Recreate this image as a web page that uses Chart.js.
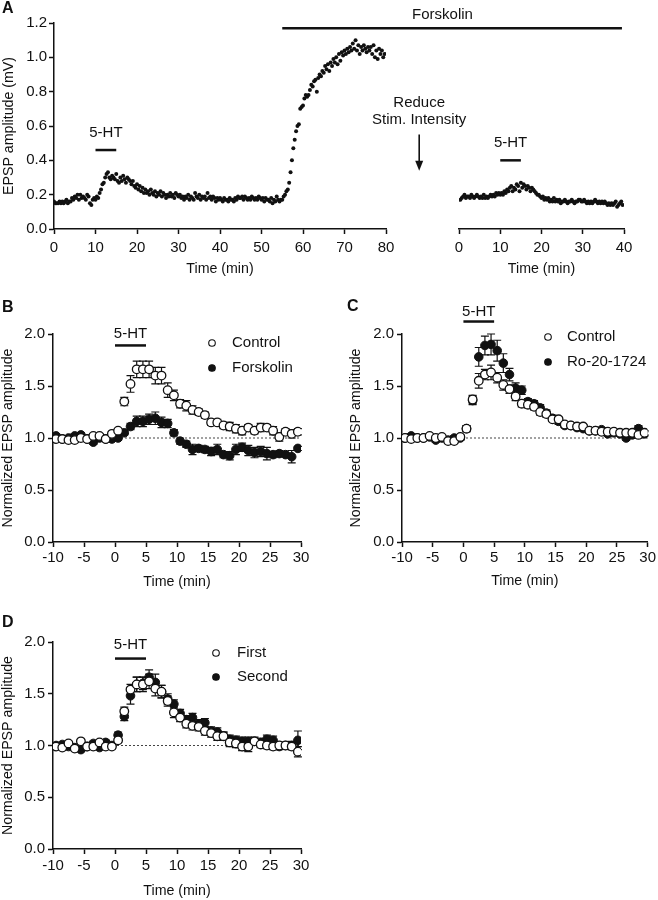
<!DOCTYPE html>
<html>
<head>
<meta charset="utf-8">
<script src="https://cdn.jsdelivr.net/npm/chart.js@4.4.1/dist/chart.umd.min.js"></script>
<style>
  body { margin: 0; background: #fff; }
  #fig { position: relative; width: 658px; height: 900px; }
  #fig canvas { position: absolute; }
  .letter { position: absolute; font: bold 16px "Liberation Sans", Arial, sans-serif; color: #111; line-height: 14px; }
</style>
</head>
<body>
<div id="fig">
  <canvas id="chartA1" width="658" height="280" style="left:0;top:0"></canvas>
  <canvas id="chartA2" width="658" height="280" style="left:0;top:0"></canvas>
  <canvas id="chartB" width="330" height="310" style="left:0;top:280px"></canvas>
  <canvas id="chartC" width="328" height="310" style="left:330px;top:280px"></canvas>
  <canvas id="chartD" width="330" height="310" style="left:0;top:590px"></canvas>
  <div class="letter" style="left:2px;top:1px">A</div>
  <div class="letter" style="left:2px;top:300px">B</div>
  <div class="letter" style="left:347px;top:299px">C</div>
  <div class="letter" style="left:2px;top:615px">D</div>
</div>
<script>
const INK = '#111';
const TICK_SIZE = 15;
const TITLE_SIZE = 14.2;
Chart.defaults.font.family = '"Liberation Sans", Arial, sans-serif';
Chart.defaults.color = INK;

// ---- Panel A: raw EPSP amplitude (mV), one sweep every 20 s ----
const sampleMin = 1 / 3;
const aBeforeAmp = [
  0.16,0.15,0.15, 0.15,0.16,0.15, 0.16,0.15,0.16, 0.17,0.15,0.16, 0.16,0.18,0.17,
  0.19,0.18,0.20, 0.17,0.20,0.18, 0.19,0.18,0.17, 0.20,0.19,0.15, 0.14,0.17,0.18,
  0.17,0.19,0.18, 0.21,0.23,0.26, 0.27,0.30,0.32, 0.33,0.30,0.29, 0.31,0.30,0.29,
  0.32,0.28,0.27, 0.30,0.28,0.31, 0.29,0.27,0.30, 0.29,0.28,0.26, 0.28,0.25,0.24,
  0.26,0.23,0.25, 0.22,0.24,0.21, 0.23,0.21,0.22, 0.20,0.23,0.21, 0.20,0.22,0.19,
  0.21,0.20,0.22, 0.19,0.21,0.20, 0.18,0.20,0.19, 0.21,0.19,0.20, 0.18,0.21,0.20,
  0.19,0.20,0.18, 0.19,0.17,0.19, 0.18,0.20,0.17, 0.19,0.18,0.17, 0.21,0.19,0.18,
  0.20,0.17,0.19, 0.18,0.19,0.17, 0.21,0.18,0.19, 0.17,0.19,0.18, 0.16,0.18,0.17,
  0.18,0.17,0.16, 0.18,0.17,0.17, 0.16,0.18,0.17, 0.17,0.16,0.18, 0.17,0.19,0.18,
  0.18,0.19,0.17, 0.19,0.18,0.17, 0.18,0.17,0.19, 0.18,0.17,0.18, 0.17,0.19,0.18,
  0.17,0.18,0.16, 0.18,0.17,0.17, 0.16,0.18,0.15, 0.17,0.16,0.19, 0.17,0.16,0.17,
  0.17,0.19,0.20, 0.22,0.23,0.27, 0.33,0.40,0.47, 0.52,0.57,0.60, 0.61,0.70,0.71,
  0.72,0.76,0.78, 0.77,0.78,0.81, 0.84,0.83,0.86, 0.87,0.80,0.88, 0.90,0.89,0.92,
  0.91,0.95,0.93, 0.96,0.92,0.97, 0.95,0.99,0.97, 1.00,0.96,1.02, 0.98,1.03,1.01,
  1.04,1.02,1.05, 1.03,1.06,1.04, 1.08,1.05,1.10, 1.04,1.07,1.02, 1.06,1.04,1.07,
  1.05,1.03,1.06, 1.04,1.06,1.02, 1.07,1.00,1.04, 0.99,1.05,1.02, 1.04,1.00,1.02
];
const aAfterAmp = [
  0.17,0.18,0.19, 0.20,0.18,0.19, 0.19,0.18,0.20, 0.19,0.18,0.19, 0.20,0.19,0.18,
  0.19,0.18,0.20, 0.18,0.19,0.18, 0.19,0.20,0.19, 0.20,0.19,0.21, 0.20,0.21,0.20,
  0.21,0.20,0.22, 0.21,0.23,0.22, 0.24,0.25,0.22, 0.24,0.23,0.26, 0.25,0.22,0.27,
  0.24,0.26,0.25, 0.23,0.25,0.24, 0.22,0.24,0.23, 0.22,0.21,0.20, 0.20,0.19,0.18,
  0.19,0.17,0.18, 0.17,0.18,0.16, 0.17,0.16,0.18, 0.16,0.17,0.16, 0.17,0.15,0.16,
  0.16,0.17,0.16, 0.15,0.16,0.16, 0.17,0.16,0.15, 0.16,0.16,0.17, 0.17,0.16,0.16,
  0.17,0.16,0.15, 0.16,0.15,0.16, 0.15,0.16,0.17, 0.16,0.15,0.16, 0.15,0.16,0.15,
  0.16,0.15,0.14, 0.15,0.14,0.15, 0.14,0.15,0.16, 0.13,0.14,0.15, 0.16,0.14
];
const aBeforeTicks = [0, 10, 20, 30, 40, 50, 60, 70, 80];
const aAfterTicks = [0, 10, 20, 30, 40];
const aAmpTicks = [0, 0.2, 0.4, 0.6, 0.8, 1.0, 1.2];

// ---- Panels B-D: normalized EPSP amplitude, 1-min bins ----
const normTime = [-9.5,-8.5,-7.5,-6.5,-5.5,-4.5,-3.5,-2.5,-1.5,-0.5,
  0.5,1.5,2.5,3.5,4.5,5.5,6.5,7.5,8.5,9.5,
  10.5,11.5,12.5,13.5,14.5,15.5,16.5,17.5,18.5,19.5,
  20.5,21.5,22.5,23.5,24.5,25.5,26.5,27.5,28.5,29.5];
const normTimeTicks = [-10, -5, 0, 5, 10, 15, 20, 25, 30];
const normAmpTicks = [0, 0.5, 1.0, 1.5, 2.0];

const bControl = [0.99,0.99,0.98,0.98,1.00,0.99,1.02,1.02,0.99,1.04,
  1.07,1.35,1.52,1.66,1.66,1.66,1.60,1.60,1.46,1.41,
  1.33,1.31,1.27,1.25,1.22,1.15,1.15,1.12,1.11,1.09,
  1.07,1.10,1.07,1.10,1.10,1.07,1.01,1.06,1.04,1.06];
const bControlSem = [0.02,0.02,0.02,0.02,0.02,0.02,0.02,0.02,0.02,0.02,
  0.02,0.04,0.08,0.08,0.08,0.08,0.08,0.08,0.07,0.05,
  0.04,0.05,0.04,0.03,0.03,0.03,0.03,0.03,0.04,0.04,
  0.04,0.03,0.03,0.04,0.03,0.04,0.04,0.03,0.04,0.03];
const bForskolin = [1.02,0.99,1.00,1.02,1.03,0.99,0.96,1.00,0.99,0.99,
  1.00,1.05,1.11,1.16,1.16,1.18,1.19,1.15,1.14,1.05,
  0.97,0.94,0.89,0.90,0.89,0.87,0.89,0.84,0.83,0.89,
  0.91,0.88,0.86,0.87,0.85,0.84,0.85,0.84,0.82,0.90];
const bForskolinSem = [0.02,0.02,0.02,0.02,0.02,0.02,0.02,0.02,0.02,0.02,
  0.02,0.02,0.03,0.05,0.05,0.05,0.06,0.05,0.04,0.03,
  0.03,0.03,0.05,0.03,0.03,0.04,0.05,0.03,0.04,0.05,
  0.04,0.05,0.05,0.05,0.06,0.03,0.03,0.02,0.06,0.02];

const cControl = [1.00,0.99,1.00,1.00,1.02,1.00,1.01,0.97,0.97,1.01,
  1.09,1.37,1.55,1.61,1.63,1.58,1.51,1.47,1.40,1.33,
  1.32,1.30,1.25,1.23,1.18,1.18,1.13,1.12,1.11,1.11,
  1.07,1.07,1.06,1.06,1.06,1.05,1.05,1.05,1.03,1.05];
const cControlSem = [0.02,0.02,0.01,0.01,0.01,0.02,0.01,0.02,0.02,0.02,
  0.03,0.04,0.07,0.05,0.07,0.05,0.05,0.04,0.04,0.03,
  0.03,0.03,0.03,0.03,0.02,0.02,0.02,0.02,0.02,0.02,
  0.02,0.02,0.02,0.02,0.02,0.02,0.02,0.02,0.03,0.02];
const cRo = [1.00,1.02,1.00,1.00,1.01,0.98,1.00,0.98,1.00,1.00,
  1.09,1.36,1.78,1.89,1.90,1.84,1.72,1.61,1.48,1.46,
  1.35,1.33,1.29,1.24,1.19,1.16,1.12,1.12,1.10,1.09,
  1.07,1.07,1.08,1.04,1.05,1.04,1.00,1.03,1.09,1.04];
const cRoSem = [0.02,0.02,0.01,0.01,0.01,0.02,0.01,0.02,0.02,0.02,
  0.03,0.04,0.09,0.09,0.10,0.10,0.09,0.06,0.05,0.04,
  0.03,0.03,0.03,0.03,0.03,0.03,0.02,0.02,0.02,0.02,
  0.02,0.02,0.02,0.02,0.02,0.02,0.02,0.02,0.03,0.02];

const dFirst = [0.99,0.98,1.02,0.97,1.04,0.99,0.99,1.03,0.99,0.99,
  1.05,1.33,1.54,1.59,1.59,1.62,1.55,1.52,1.43,1.32,
  1.27,1.21,1.19,1.18,1.14,1.12,1.09,1.09,1.03,1.02,
  0.99,0.99,1.04,1.01,1.00,0.99,1.00,1.00,0.99,0.94];
const dFirstSem = [0.02,0.02,0.02,0.02,0.02,0.02,0.02,0.02,0.02,0.02,
  0.02,0.04,0.05,0.07,0.07,0.07,0.07,0.06,0.05,0.05,
  0.04,0.04,0.04,0.04,0.04,0.04,0.04,0.04,0.04,0.04,
  0.04,0.05,0.03,0.03,0.03,0.03,0.03,0.03,0.03,0.05];
const dSecond = [1.00,1.01,0.99,0.98,0.96,0.99,1.02,0.98,1.03,1.00,
  1.10,1.28,1.48,1.59,1.60,1.66,1.61,1.52,1.45,1.40,
  1.31,1.25,1.27,1.21,1.22,1.14,1.13,1.09,1.06,1.05,
  1.04,1.04,1.04,1.03,1.06,1.05,0.99,1.00,1.00,1.05];
const dSecondSem = [0.02,0.02,0.02,0.02,0.02,0.02,0.02,0.02,0.02,0.02,
  0.03,0.04,0.08,0.07,0.06,0.07,0.08,0.06,0.05,0.04,
  0.04,0.04,0.04,0.04,0.04,0.04,0.04,0.04,0.04,0.04,
  0.04,0.04,0.04,0.04,0.04,0.04,0.03,0.03,0.04,0.09];

function toPoints(xs, ys) {
  return ys.map((y, i) => ({ x: xs[i], y: y }));
}

// mean +/- SEM whiskers, drawn under each dataset's own markers
Chart.register({
  id: 'semBars',
  beforeDatasetDraw(chart, args) {
    const ds = chart.data.datasets[args.index];
    if (!ds.sem) return;
    const { ctx, scales: { x, y } } = chart;
    ctx.save();
    ctx.strokeStyle = INK;
    ctx.lineWidth = 1.2;
    ds.data.forEach((p, i) => {
      const px = x.getPixelForValue(p.x);
      const top = y.getPixelForValue(p.y + ds.sem[i]);
      const bot = y.getPixelForValue(p.y - ds.sem[i]);
      ctx.beginPath();
      ctx.moveTo(px, top); ctx.lineTo(px, bot);
      ctx.moveTo(px - 4, top); ctx.lineTo(px + 4, top);
      ctx.moveTo(px - 4, bot); ctx.lineTo(px + 4, bot);
      ctx.stroke();
    });
    ctx.restore();
  }
});

function xAxis(ticks, min, max, o) {
  return {
    type: 'linear', position: 'bottom', min: min, max: max,
    afterBuildTicks: s => { s.ticks = ticks.map(v => ({ value: v })); },
    afterFit: s => { s.height = o.height; },
    ticks: { padding: o.tickPad, font: { size: TICK_SIZE }, color: INK, maxRotation: 0, autoSkip: false, callback: v => String(v) },
    grid: { drawOnChartArea: false, tickLength: 5, tickWidth: 1.5, tickColor: INK },
    border: { color: INK, width: 1.5 },
    title: { display: true, text: 'Time (min)', font: { size: TITLE_SIZE }, color: INK, padding: { top: 0, bottom: o.titlePad } }
  };
}

function yAxis(ticks, max, title, o) {
  return {
    type: 'linear', min: 0, max: max, display: o.display !== false,
    afterBuildTicks: s => { s.ticks = ticks.map(v => ({ value: v })); },
    afterFit: s => { s.width = o.width; },
    ticks: { padding: o.tickPad, font: { size: TICK_SIZE }, color: INK, autoSkip: false, callback: v => v.toFixed(1) },
    grid: { drawOnChartArea: false, tickLength: 5, tickWidth: 1.5, tickColor: INK },
    border: { color: INK, width: 1.5 },
    title: { display: true, text: title, font: { size: TITLE_SIZE }, color: INK, padding: { top: o.titlePad, bottom: 0 } }
  };
}

function drawBar(ctx, x1, x2, y) {
  ctx.save();
  ctx.strokeStyle = INK;
  ctx.lineWidth = 2.5;
  ctx.beginPath();
  ctx.moveTo(x1, y); ctx.lineTo(x2, y);
  ctx.stroke();
  ctx.restore();
}

function drawLabel(ctx, text, x, y) {
  ctx.save();
  ctx.fillStyle = INK;
  ctx.font = TICK_SIZE + 'px "Liberation Sans", Arial, sans-serif';
  ctx.textAlign = 'center';
  ctx.textBaseline = 'middle';
  ctx.fillText(text, x, y);
  ctx.restore();
}

const baseOptions = {
  responsive: false,
  animation: false,
  events: [],
  plugins: { legend: { display: false }, tooltip: { enabled: false } }
};

// Panel A, before the intensity change
const chartA1 = new Chart(document.getElementById('chartA1'), {
  type: 'scatter',
  data: { datasets: [{
    data: toPoints(aBeforeAmp.map((v, i) => i * sampleMin), aBeforeAmp),
    pointRadius: 2, pointBorderWidth: 0, pointBackgroundColor: INK
  }] },
  options: Object.assign({}, baseOptions, {
    layout: { padding: { left: 0, top: 23, right: 272, bottom: 0 } },
    scales: {
      x: xAxis(aBeforeTicks, 0, 80, { height: 51, tickPad: 5, titlePad: 2.6 }),
      y: yAxis(aAmpTicks, 1.2, 'EPSP amplitude (mV)', { width: 54, tickPad: 2, titlePad: 1 })
    }
  }),
  plugins: [{
    id: 'aLeftMarks',
    afterDraw(chart) {
      const { ctx, scales: { x, y } } = chart;
      drawBar(ctx, x.getPixelForValue(10), x.getPixelForValue(15), y.getPixelForValue(0.46));
      drawLabel(ctx, '5-HT', x.getPixelForValue(12.5), y.getPixelForValue(0.56));
      const ax = x.getPixelForValue(88);
      drawLabel(ctx, 'Reduce', ax, y.getPixelForValue(0.734));
      drawLabel(ctx, 'Stim. Intensity', ax, y.getPixelForValue(0.635));
      const top = y.getPixelForValue(0.55), tip = y.getPixelForValue(0.34);
      ctx.save();
      ctx.strokeStyle = INK; ctx.fillStyle = INK; ctx.lineWidth = 1.6;
      ctx.beginPath(); ctx.moveTo(ax, top); ctx.lineTo(ax, tip - 6); ctx.stroke();
      ctx.beginPath(); ctx.moveTo(ax - 4, tip - 10); ctx.lineTo(ax + 4, tip - 10); ctx.lineTo(ax, tip); ctx.closePath(); ctx.fill();
      ctx.restore();
    }
  }]
});

// Panel A, after the intensity change (shares the Forskolin bar with the left part)
const chartA2 = new Chart(document.getElementById('chartA2'), {
  type: 'scatter',
  data: { datasets: [{
    data: toPoints(aAfterAmp.map((v, i) => (i + 1) * sampleMin), aAfterAmp),
    pointRadius: 2, pointBorderWidth: 0, pointBackgroundColor: INK
  }] },
  options: Object.assign({}, baseOptions, {
    layout: { padding: { left: 459, top: 23, right: 34, bottom: 0 } },
    scales: {
      x: xAxis(aAfterTicks, 0, 40, { height: 51, tickPad: 5, titlePad: 2.6 }),
      y: yAxis(aAmpTicks, 1.2, '', { width: 0, tickPad: 2, titlePad: 0, display: false })
    }
  }),
  plugins: [{
    id: 'aRightMarks',
    afterDraw(chart) {
      const { ctx, scales: { x, y } } = chart;
      drawBar(ctx, x.getPixelForValue(10), x.getPixelForValue(15), y.getPixelForValue(0.40));
      drawLabel(ctx, '5-HT', x.getPixelForValue(12.5), y.getPixelForValue(0.50));
      drawBar(ctx, chartA1.scales.x.getPixelForValue(55), x.getPixelForValue(39.5), y.getPixelForValue(1.17));
      drawLabel(ctx, 'Forskolin', x.getPixelForValue(-4), y.getPixelForValue(1.246));
    }
  }]
});

function normPanel(id, cfg) {
  return new Chart(document.getElementById(id), {
    type: 'scatter',
    data: { datasets: [
      { label: cfg.labels[0], data: toPoints(normTime, cfg.open), sem: cfg.openSem,
        pointRadius: 4.3, pointBorderWidth: 1.3, pointBackgroundColor: '#fff', pointBorderColor: INK },
      { label: cfg.labels[1], data: toPoints(normTime, cfg.filled), sem: cfg.filledSem,
        pointRadius: 4.3, pointBorderWidth: 1, pointBackgroundColor: INK, pointBorderColor: INK }
    ] },
    options: Object.assign({}, baseOptions, {
      layout: { padding: cfg.padding },
      scales: {
        x: xAxis(normTimeTicks, -10, 30, { height: cfg.xHeight, tickPad: cfg.xTickPad, titlePad: cfg.xTitlePad }),
        y: yAxis(normAmpTicks, 2.0, 'Normalized EPSP amplitude', { width: cfg.yWidth, tickPad: 3, titlePad: cfg.yTitlePad })
      }
    }),
    plugins: [{
      id: id + 'Marks',
      beforeDatasetsDraw(chart) {
        const { ctx, scales: { x, y } } = chart;
        ctx.save();
        ctx.strokeStyle = '#444';
        ctx.lineWidth = 1;
        ctx.setLineDash([2, 2]);
        ctx.beginPath();
        ctx.moveTo(x.getPixelForValue(-10), y.getPixelForValue(1));
        ctx.lineTo(x.getPixelForValue(30), y.getPixelForValue(1));
        ctx.stroke();
        ctx.restore();
      },
      afterDraw(chart) {
        const { ctx, scales: { x, y } } = chart;
        const barY = y.getPixelForValue(cfg.barValue);
        drawBar(ctx, x.getPixelForValue(0), x.getPixelForValue(5), barY);
        drawLabel(ctx, '5-HT', x.getPixelForValue(2.5), barY - cfg.barLabelGap);
        chart.data.datasets.forEach((ds, i) => {
          const ly = cfg.legend.y + i * cfg.legend.step;
          ctx.save();
          ctx.beginPath();
          ctx.arc(cfg.legend.x, ly, 3.3, 0, Math.PI * 2);
          ctx.fillStyle = ds.pointBackgroundColor;
          ctx.fill();
          ctx.strokeStyle = INK;
          ctx.lineWidth = 1.1;
          ctx.stroke();
          ctx.fillStyle = INK;
          ctx.font = TICK_SIZE + 'px "Liberation Sans", Arial, sans-serif';
          ctx.textAlign = 'left';
          ctx.textBaseline = 'middle';
          ctx.fillText(ds.label, cfg.legend.textX, ly);
          ctx.restore();
        });
      }
    }]
  });
}

normPanel('chartB', {
  labels: ['Control', 'Forskolin'],
  open: bControl, openSem: bControlSem, filled: bForskolin, filledSem: bForskolinSem,
  padding: { left: 0, top: 54, right: 29, bottom: 0 },
  xHeight: 48, xTickPad: 2, xTitlePad: -1, yWidth: 53, yTitlePad: 0,
  barValue: 1.89, barLabelGap: 12,
  legend: { x: 212, y: 63, step: 25, textX: 232 }
});

normPanel('chartC', {
  labels: ['Control', 'Ro-20-1724'],
  open: cControl, openSem: cControlSem, filled: cRo, filledSem: cRoSem,
  padding: { left: 0, top: 54, right: 9, bottom: 0 },
  xHeight: 48, xTickPad: 2, xTitlePad: 0, yWidth: 72, yTitlePad: 17.5,
  barValue: 2.12, barLabelGap: 10,
  legend: { x: 218, y: 57, step: 25, textX: 237 }
});

normPanel('chartD', {
  labels: ['First', 'Second'],
  open: dFirst, openSem: dFirstSem, filled: dSecond, filledSem: dSecondSem,
  padding: { left: 0, top: 52, right: 29, bottom: 0 },
  xHeight: 51, xTickPad: 3, xTitlePad: 0, yWidth: 53, yTitlePad: 0,
  barValue: 1.84, barLabelGap: 14,
  legend: { x: 216, y: 63, step: 24, textX: 237 }
});
</script>
</body>
</html>
